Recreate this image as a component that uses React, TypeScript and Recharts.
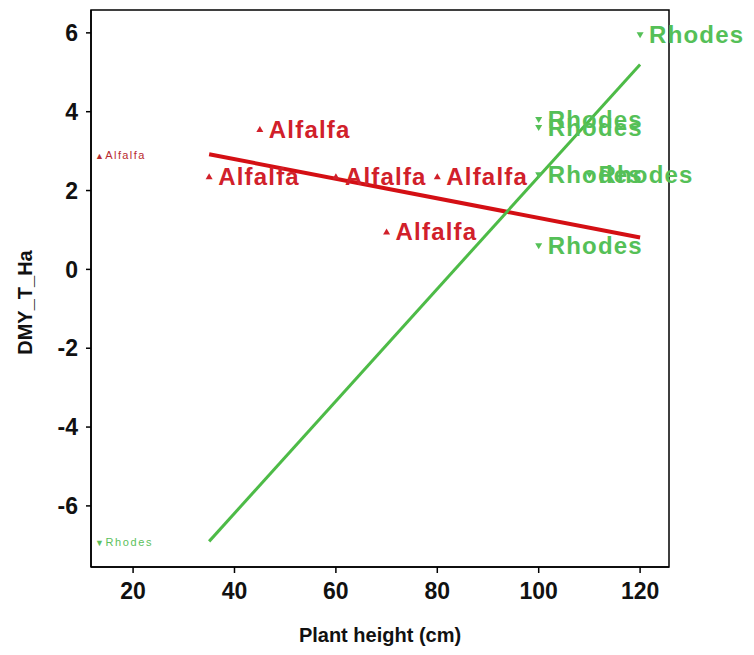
import React from "react";
import {
  ScatterChart,
  Scatter,
  XAxis,
  YAxis,
  ZAxis,
  ReferenceArea,
} from "recharts";

// plant height (cm) vs dry matter yield (t/ha)
const alfalfaHeight = [35, 45, 60, 70, 80];
const alfalfaDmy = [2.35, 3.55, 2.35, 0.95, 2.35];
const rhodesHeight = [120, 100, 100, 100, 110, 100];
const rhodesDmy = [5.95, 3.8, 3.6, 2.4, 2.4, 0.6];

// fitted lines, end points
const alfalfaFitX = [35, 120];
const alfalfaFitY = [2.92, 0.81];
const rhodesFitX = [35, 120];
const rhodesFitY = [-6.9, 5.2];

const xTicks = [20, 40, 60, 80, 100, 120];
const yTicks = [-6, -4, -2, 0, 2, 4, 6];
const xDomain = [11.7, 125.7];
const yDomain = [-7.55, 6.58];

const RED = "#D1202A";
const GREEN = "#55C057";
const RED_LINE = "#D40F14";
const GREEN_LINE = "#4DBB47";

const pairs = (xs: number[], ys: number[]) => xs.map((x, i) => ({ x, y: ys[i] }));

const alfalfaPts = pairs(alfalfaHeight, alfalfaDmy);
const rhodesPts = pairs(rhodesHeight, rhodesDmy);
const alfalfaFit = pairs(alfalfaFitX, alfalfaFitY);
const rhodesFit = pairs(rhodesFitX, rhodesFitY);

const makeShape = (name: string, color: string, up: boolean) => (props: any) => {
  const { cx, cy } = props;
  const d = up
    ? `M${cx},${cy - 3.5} L${cx - 3.5},${cy + 2.5} L${cx + 3.5},${cy + 2.5} Z`
    : `M${cx},${cy + 3.5} L${cx - 3.5},${cy - 2.5} L${cx + 3.5},${cy - 2.5} Z`;
  return (
    <g>
      <path d={d} fill={color} />
      <text
        x={cx + 9}
        y={cy + 8.5}
        fill={color}
        fontSize={24}
        fontWeight="bold"
        letterSpacing={1.2}
        fontFamily="'Liberation Sans', Arial, sans-serif"
      >
        {name}
      </text>
    </g>
  );
};

const noDot = () => <g />;

const tickStyle = {
  fontSize: 23,
  fontWeight: "bold" as const,
  fill: "#111",
  fontFamily: "'Liberation Sans', Arial, sans-serif",
};

export default function App() {
  return (
    <div
      style={{
        position: "absolute",
        left: 0,
        top: 0,
        width: 754,
        height: 655,
        background: "#fff",
        fontFamily: "'Liberation Sans', Arial, sans-serif",
      }}
    >
      <ScatterChart
        width={754}
        height={655}
        margin={{ top: 10, right: 85, bottom: 28, left: 31 }}
        style={{ overflow: "visible" }}
      >
        <XAxis
          type="number"
          dataKey="x"
          domain={xDomain}
          ticks={xTicks}
          height={60}
          tickSize={6}
          tickMargin={10}
          tick={tickStyle}
          axisLine={{ stroke: "#000", strokeWidth: 1.5 }}
          tickLine={{ stroke: "#000", strokeWidth: 1.5 }}
          label={{
            value: "Plant height (cm)",
            position: "insideBottom",
            offset: 0,
            dy: 15,
            style: { fontSize: 20, fontWeight: "bold", fill: "#111" },
          }}
        />
        <YAxis
          type="number"
          dataKey="y"
          domain={yDomain}
          ticks={yTicks}
          width={60}
          tickSize={5}
          tickMargin={8}
          tick={tickStyle}
          axisLine={{ stroke: "#000", strokeWidth: 1.5 }}
          tickLine={{ stroke: "#000", strokeWidth: 1.5 }}
          label={{
            value: "DMY_T_Ha",
            angle: -90,
            position: "insideLeft",
            offset: 0,
            dx: -6,
            dy: 14,
            style: { fontSize: 20, fontWeight: "bold", fill: "#111", textAnchor: "middle" },
          }}
        />
        <ZAxis range={[30, 30]} />
        <ReferenceArea
          x1={xDomain[0]}
          x2={xDomain[1]}
          y1={yDomain[0]}
          y2={yDomain[1]}
          fill="none"
          fillOpacity={0}
          stroke="#000"
          strokeWidth={1.5}
          ifOverflow="visible"
        />
        <Scatter
          name="Alfalfa fit"
          data={alfalfaFit}
          line={{ stroke: RED_LINE, strokeWidth: 4 }}
          shape={noDot}
          isAnimationActive={false}
        />
        <Scatter
          name="Rhodes fit"
          data={rhodesFit}
          line={{ stroke: GREEN_LINE, strokeWidth: 3 }}
          shape={noDot}
          isAnimationActive={false}
        />
        <Scatter
          name="Alfalfa"
          data={alfalfaPts}
          shape={makeShape("Alfalfa", RED, true)}
          isAnimationActive={false}
        />
        <Scatter
          name="Rhodes"
          data={rhodesPts}
          shape={makeShape("Rhodes", GREEN, false)}
          isAnimationActive={false}
        />
      </ScatterChart>
      <div
        style={{
          position: "absolute",
          left: 95,
          top: 147,
          fontSize: 11,
          letterSpacing: 1.4,
          color: "#B82B2F",
          lineHeight: "16px",
          whiteSpace: "nowrap",
        }}
      >
        <span style={{ fontSize: 9 }}>▲</span>Alfalfa
      </div>
      <div
        style={{
          position: "absolute",
          left: 95,
          top: 534,
          fontSize: 11,
          letterSpacing: 1.6,
          color: "#5CBF5C",
          lineHeight: "16px",
          whiteSpace: "nowrap",
        }}
      >
        <span style={{ fontSize: 9 }}>▼</span>Rhodes
      </div>
    </div>
  );
}
